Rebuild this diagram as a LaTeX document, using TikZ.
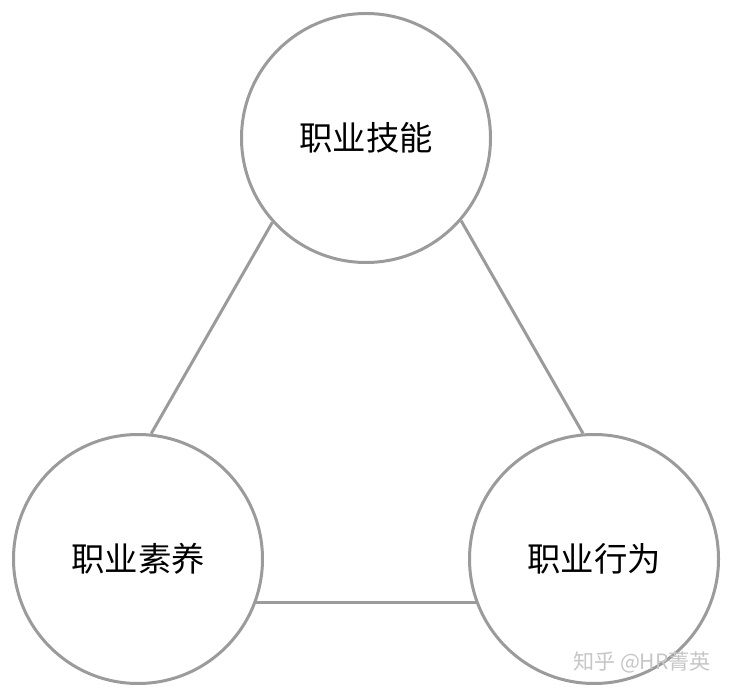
\documentclass[tikz,border=0pt]{standalone}
\usepackage{fontspec}
\newfontfamily\cjk{Noto Sans CJK SC}
\usepackage{tikz}
\usetikzlibrary{positioning}

\definecolor{ringgray}{RGB}{155,155,155}

\begin{document}
\begin{tikzpicture}[
  every node/.style={font=\cjk\fontsize{19}{22}\selectfont},
  ring/.style={circle, draw=ringgray, line width=0.06cm, fill=white, minimum size=4.98cm, inner sep=0pt, align=center},
  link/.style={draw=ringgray, line width=0.06cm}
]
\useasboundingbox (0,0) rectangle (14.64,-13.84);
% three circles
\node[ring] (skill) at (7.32,-2.76) {职业技能};
\node[ring] (quality) at (2.76,-11.18) {职业素养};
\node[ring, on grid, right=9.12cm of quality] (behavior) {职业行为};
% sides of the triangle
\draw[link] (skill.222) -- (quality.84);
\draw[link] (skill.319) -- (behavior.95);
\draw[link] (quality.-20) -- (behavior.200);
% watermark
\node[text=gray!45, font=\cjk\fontsize{12}{14}\selectfont] (mark) at (12.84,-13.24) {知乎 @HR菁英};
\end{tikzpicture}
\end{document}
